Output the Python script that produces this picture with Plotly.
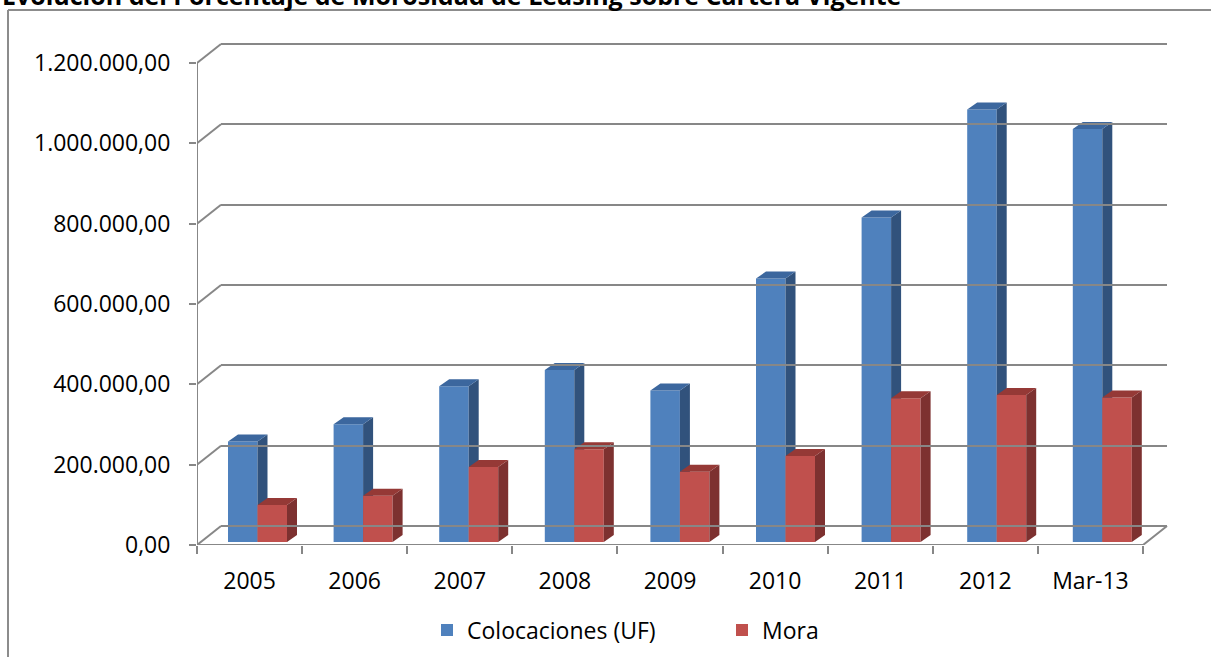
import plotly.graph_objects as go

# ---- data -------------------------------------------------------------
categories = ["2005", "2006", "2007", "2008", "2009", "2010", "2011", "2012", "Mar-13"]
colocaciones_uf = [250000, 293000, 388000, 428000, 377000, 656000, 808000, 1077000, 1028000]
mora = [92000, 115000, 187000, 231000, 175000, 214000, 358000, 366000, 360000]
value_ticks = [0, 200000, 400000, 600000, 800000, 1000000, 1200000]
value_tick_labels = ["0,00", "200.000,00", "400.000,00", "600.000,00",
                     "800.000,00", "1.000.000,00", "1.200.000,00"]
series_names = ["Colocaciones (UF)", "Mora"]
title_text = "Evolución del Porcentaje de Morosidad de Leasing sobre Cartera Vigente"

# ---- layout geometry: positions given on a 1211 x 657 grid ------------
W, H = 1211, 657
FIG_W, FIG_H = 1211, 672
FONT = "Open Sans"
GRID = "#878787"

BLUE = dict(front="#4F81BD", side="#31527C", top="#3C679E")
RED = dict(front="#C0504D", side="#7D3130", top="#953936")


def px_x(p):
    return p / W


def px_y(p):
    return 1 - p / H


VMAX = 1200000
AXIS_PX = 482                 # length of 0..VMAX on the value axis
upp_y = VMAX / AXIS_PX        # value units per grid pixel

WALL_DX, WALL_DY = 24, 19     # depth of the floor / back wall
BAR_DX, BAR_DY = 10, 7        # depth of each column
BAR_W_PX = 29.5

n = len(categories)
xs = list(range(n))

# front plane: value axis and category axis
FX0, FX1, FY0 = 197, 1143, 545
f_upp_x = n / (FX1 - FX0)
F_EXTRA_X, F_EXTRA_Y = 40, 30
front_xmax = n - 0.5 + F_EXTRA_X * f_upp_x
front_ymax = VMAX + F_EXTRA_Y * upp_y

# back wall plane (gridlines)
BX0, BX1, BY0 = FX0 + WALL_DX, FX1 + WALL_DX, FY0 - WALL_DY
PAD = 4

# column plane
CX0, CX1, CY0 = 204.7, 1155.1, 542
c_upp_x = n / (CX1 - CX0)
C_EXTRA_Y = 30
bar_w = BAR_W_PX * c_upp_x

fig = go.Figure()


def column_faces(values, offset, colors, name, xa, ya):
    dx = BAR_DX * c_upp_x
    dy = BAR_DY * upp_y
    side_x, side_y, top_x, top_y = [], [], [], []
    for x, v in zip(xs, values):
        xl = x + offset
        xr = xl + bar_w
        side_x += [xr, xr + dx, xr + dx, xr, xr, None]
        side_y += [0, dy, v + dy, v, 0, None]
        top_x += [xl, xl + dx, xr + dx, xr, xl, None]
        top_y += [v, v + dy, v + dy, v, v, None]
    fig.add_trace(go.Bar(
        x=xs, y=values, width=bar_w, offset=offset, name=name,
        marker=dict(color=colors["front"], line=dict(width=0)),
        xaxis=xa, yaxis=ya, showlegend=True))
    for fx, fy, c in [(side_x, side_y, colors["side"]), (top_x, top_y, colors["top"])]:
        fig.add_trace(go.Scatter(
            x=fx, y=fy, mode="lines", fill="toself", fillcolor=c,
            line=dict(width=0, color=c), hoverinfo="skip",
            xaxis=xa, yaxis=ya, showlegend=False))


# floor outline, axis line and depth connectors on the front plane
wdx = WALL_DX * f_upp_x
wdy = WALL_DY * upp_y
lx, ly = [], []
for v in value_ticks:
    lx += [-0.5, -0.5 + wdx, None]
    ly += [v, v + wdy, None]
lx += [-0.5, n - 0.5, n - 0.5 + wdx, None, -0.5, -0.5]
ly += [0, 0, wdy, None, 0, VMAX]
fig.add_trace(go.Scatter(x=lx, y=ly, mode="lines", line=dict(color=GRID, width=2),
                         hoverinfo="skip", showlegend=False, xaxis="x", yaxis="y",
                         cliponaxis=False))

column_faces(colocaciones_uf, -bar_w, BLUE, series_names[0], "x2", "y2")
column_faces(mora, 0.0, RED, series_names[1], "x4", "y4")

# invisible trace so the back-wall axes get drawn
fig.add_trace(go.Scatter(x=[0], y=[0], mode="markers", marker=dict(opacity=0),
                         hoverinfo="skip", showlegend=False, xaxis="x3", yaxis="y3"))

tick_font = dict(family=FONT, size=23, color="#000000")

fig.update_layout(
    width=FIG_W, height=FIG_H,
    margin=dict(l=0, r=0, t=0, b=0),
    paper_bgcolor="white", plot_bgcolor="rgba(0,0,0,0)",
    barmode="overlay",
    font=dict(family=FONT, color="#000000"),
    # front plane
    xaxis=dict(
        domain=[px_x(FX0), px_x(FX0 + (front_xmax + 0.5) / f_upp_x)],
        range=[-0.5, front_xmax], showgrid=False, zeroline=False, showline=False,
        tickmode="array", tickvals=xs, ticktext=categories, ticks="", ticklen=0,
        tickfont=tick_font, ticklabelstandoff=20,
        minor=dict(tickmode="array", tickvals=[i - 0.5 for i in range(n + 1)],
                   ticks="outside", ticklen=8, tickwidth=2, tickcolor=GRID, showgrid=False),
        fixedrange=True),
    yaxis=dict(
        domain=[px_y(FY0), px_y(FY0 - front_ymax / upp_y)],
        range=[0, front_ymax], showgrid=False, zeroline=False, showline=False,
        tickmode="array", tickvals=value_ticks, ticktext=value_tick_labels,
        ticks="outside", ticklen=7, tickwidth=2, tickcolor=GRID,
        tickfont=tick_font, ticklabelstandoff=14, fixedrange=True),
    # column plane
    xaxis2=dict(domain=[px_x(CX0), px_x(CX1)], range=[-0.5, n - 0.5], visible=False,
                anchor="y2", fixedrange=True),
    yaxis2=dict(domain=[px_y(CY0), px_y(CY0 - AXIS_PX - C_EXTRA_Y)],
                range=[0, VMAX + C_EXTRA_Y * upp_y], visible=False, anchor="x2",
                fixedrange=True),
    xaxis4=dict(overlaying="x2", range=[-0.5, n - 0.5], visible=False, anchor="y4",
                fixedrange=True),
    yaxis4=dict(overlaying="y2", range=[0, VMAX + C_EXTRA_Y * upp_y], visible=False,
                anchor="x4", fixedrange=True),
    # back wall
    xaxis3=dict(domain=[px_x(BX0), px_x(BX1)], range=[-0.5, n - 0.5], showgrid=False,
                zeroline=False, showline=False, showticklabels=False, ticks="",
                anchor="y3", fixedrange=True),
    yaxis3=dict(domain=[px_y(BY0 + PAD), px_y(BY0 - AXIS_PX - PAD)],
                range=[-PAD * upp_y, VMAX + PAD * upp_y], showgrid=True,
                gridcolor=GRID, gridwidth=2, zeroline=False, showline=False,
                showticklabels=False, ticks="", tickmode="array", tickvals=value_ticks,
                anchor="x3", fixedrange=True),
    legend=dict(orientation="h", x=px_x(427), xanchor="left", y=px_y(630),
                yanchor="middle", font=dict(family=FONT, size=23, color="#000000"),
                entrywidth=250, entrywidthmode="pixels", traceorder="normal",
                bgcolor="rgba(0,0,0,0)"),
    showlegend=True,
    annotations=[dict(text="<b>" + title_text + "</b>", xref="paper", yref="paper",
                      x=0, y=px_y(-5), xanchor="left", yanchor="middle",
                      showarrow=False, font=dict(family=FONT, size=25, color="#000000"))],
    # chart frame: top and left edges
    shapes=[
        dict(type="line", xref="paper", yref="paper", x0=px_x(8), x1=1, y0=px_y(10),
             y1=px_y(10), line=dict(color="#8c8c8c", width=2), layer="below"),
        dict(type="line", xref="paper", yref="paper", x0=px_x(8), x1=px_x(8), y0=px_y(10),
             y1=0, line=dict(color="#8c8c8c", width=2), layer="below"),
    ],
)

fig.write_html("out.html", config={"displayModeBar": False})
